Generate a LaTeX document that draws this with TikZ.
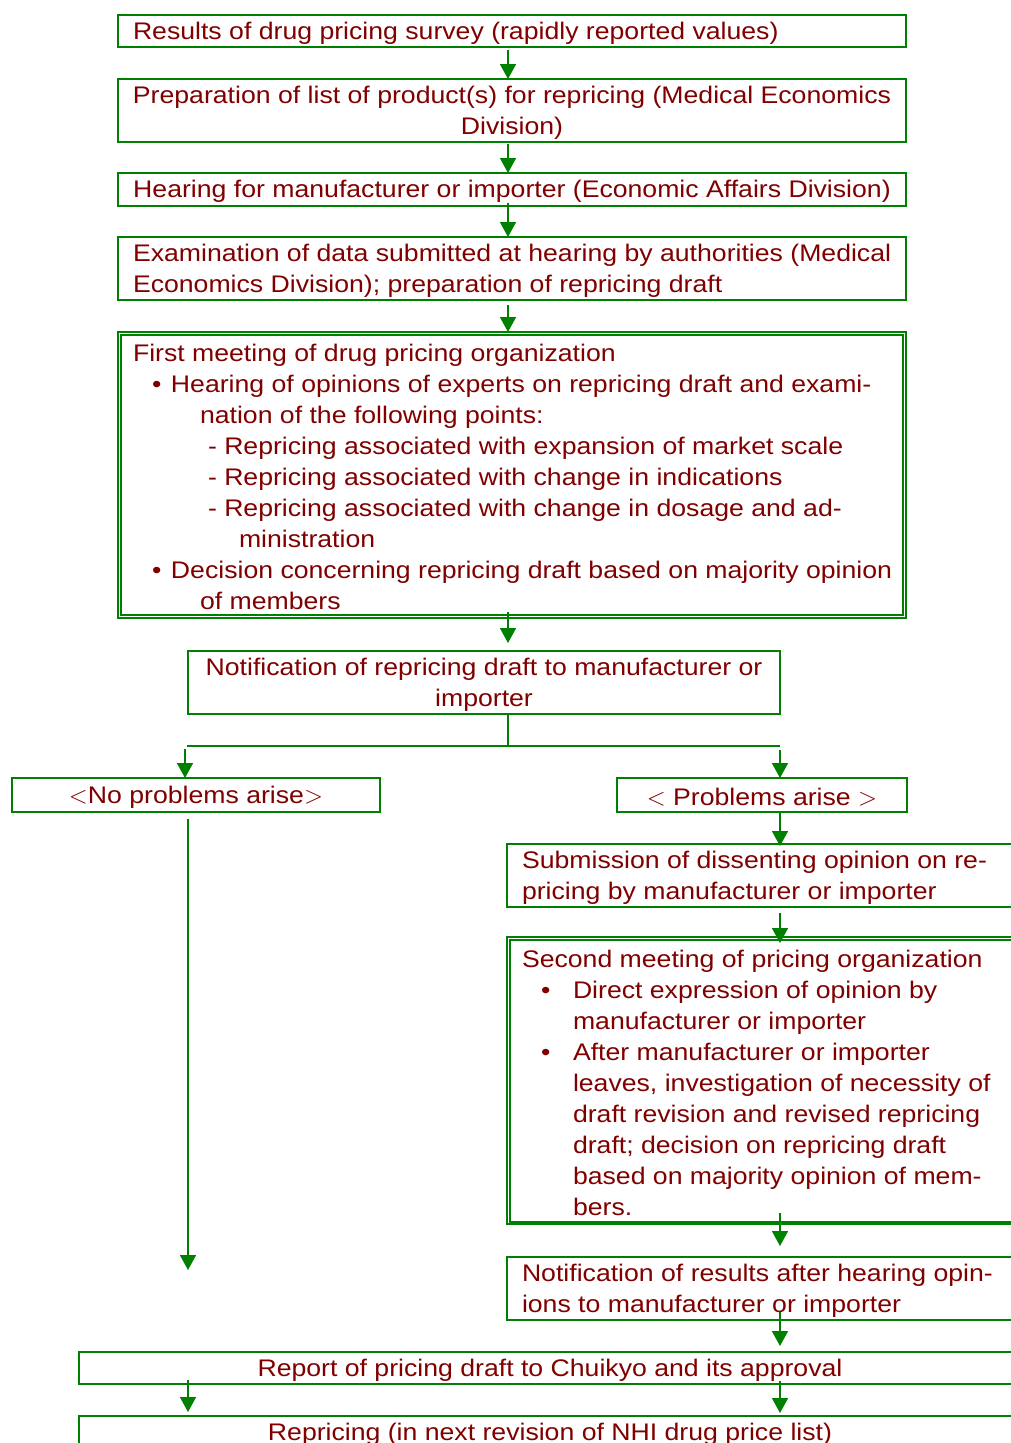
\documentclass[tikz,border=0pt]{standalone}
\usepackage{fontspec}
\setmainfont{Liberation Sans}[FakeStretch=1.11]
\usetikzlibrary{arrows.meta,calc}
\definecolor{flowgreen}{RGB}{0,128,0}
\definecolor{flowred}{RGB}{128,0,0}
\begin{document}
\begin{tikzpicture}[x=1pt,y=1pt,
  box/.style={draw=flowgreen, line width=2pt, anchor=north west, inner sep=0pt, outer sep=0pt},
  frame/.style={draw=flowgreen, line width=1.2pt},
  lbl/.style={text=flowred, inner sep=0pt, outer sep=0pt, yshift=-2pt, font=\fontsize{24}{31}\selectfont},
  lbll/.style={lbl, align=left, anchor=west},
  lblc/.style={lbl, align=center},
  arr/.style={draw=flowgreen, line width=1.6pt, -{Triangle[width=16pt,length=15pt]}},
  link/.style={draw=flowgreen, line width=1.6pt}]
\useasboundingbox (0,0) rectangle (1011,-1443);
\clip (0,0) rectangle (1011,-1443);

% guide lines for the connectors
\coordinate (mx) at (508,0);
\coordinate (rx) at (780,0);
\coordinate (lx) at (185,0);
\coordinate (lx2) at (188,0);

% main column
\node[box, minimum width=788pt, minimum height=32pt] (b1) at (118,-15) {};
\node[lbll] (t1) at ([xshift=15pt]b1.west) {Results of drug pricing survey (rapidly reported values)};

\node[box, minimum width=788pt, minimum height=63pt] (b2) at (118,-79) {};
\node[lblc] (t2) at (b2.center) {Preparation of list of product(s) for repricing (Medical Economics\\Division)};

\node[box, minimum width=788pt, minimum height=33pt] (b3) at (118,-173) {};
\node[lblc] (t3) at (b3.center) {Hearing for manufacturer or importer (Economic Affairs Division)};

\node[box, minimum width=788pt, minimum height=63pt] (b4) at (118,-237) {};
\node[lbll] (t4) at ([xshift=15pt]b4.west) {Examination of data submitted at hearing by authorities (Medical\\Economics Division); preparation of repricing draft};

\node[box, minimum width=782pt, minimum height=280pt] (b5) at (121,-335) {};
\draw[frame] ([xshift=-3pt,yshift=3pt]b5.north west) rectangle ([xshift=3pt,yshift=-3pt]b5.south east);
\node[lbll] (t5) at ([xshift=12pt]b5.west) {First meeting of drug pricing organization\\
\hspace*{19pt}\makebox[19pt][l]{•}Hearing of opinions of experts on repricing draft and exami-\\
\hspace*{67pt}nation of the following points:\\
\hspace*{75pt}- Repricing associated with expansion of market scale\\
\hspace*{75pt}- Repricing associated with change in indications\\
\hspace*{75pt}- Repricing associated with change in dosage and ad-\\
\hspace*{106pt}ministration\\
\hspace*{19pt}\makebox[19pt][l]{•}Decision concerning repricing draft based on majority opinion\\
\hspace*{67pt}of members};

\node[box, minimum width=592pt, minimum height=63pt] (b6) at (188,-651) {};
\node[lblc] (t6) at (b6.center) {Notification of repricing draft to manufacturer or\\importer};

% branches
\node[box, minimum width=368pt, minimum height=34pt] (b7) at (12,-778) {};
\node[lblc] (t7) at (b7.center) {$<$No problems arise$>$};

\node[box, minimum width=290pt, minimum height=34pt] (b8) at (617,-778) {};
\node[lblc] (t8) at (b8.center) {$<$ Problems arise $>$};

\node[box, minimum width=520pt, minimum height=63pt] (b9) at (507,-844) {};
\node[lbll] (t9) at ([xshift=15pt]b9.west) {Submission of dissenting opinion on re-\\pricing by manufacturer or importer};

\node[box, minimum width=520pt, minimum height=282pt] (b10) at (510,-940) {};
\draw[frame] ([xshift=-3pt,yshift=3pt]b10.north west) rectangle ([xshift=3pt,yshift=-2pt]b10.south east);
\node[lbll] (t10) at ([xshift=12pt]b10.west) {Second meeting of pricing organization\\
\hspace*{19pt}\makebox[32pt][l]{•}Direct expression of opinion by\\
\hspace*{51pt}manufacturer or importer\\
\hspace*{19pt}\makebox[32pt][l]{•}After manufacturer or importer\\
\hspace*{51pt}leaves, investigation of necessity of\\
\hspace*{51pt}draft revision and revised repricing\\
\hspace*{51pt}draft; decision on repricing draft\\
\hspace*{51pt}based on majority opinion of mem-\\
\hspace*{51pt}bers.};

\node[box, minimum width=520pt, minimum height=63pt] (b11) at (507,-1257) {};
\node[lbll] (t11) at ([xshift=15pt]b11.west) {Notification of results after hearing opin-\\ions to manufacturer or importer};

\node[box, minimum width=942pt, minimum height=32pt] (b12) at (79,-1352) {};
\node[lblc] (t12) at (b12.center) {Report of pricing draft to Chuikyo and its approval};

\node[box, minimum width=942pt, minimum height=32pt] (b13) at (79,-1416) {};
\node[lblc] (t13) at (b13.center) {Repricing (in next revision of NHI drug price list)};

% connectors of the main column
\draw[arr] ($(b1.south -| mx)+(0,-3)$) -- (b2.north -| mx);
\draw[arr] ($(b2.south -| mx)+(0,-2)$) -- (b3.north -| mx);
\draw[arr] ($(b3.south -| mx)+(0,3)$) -- (b4.north -| mx);
\draw[arr] ($(b4.south -| mx)+(0,-5)$) -- ($(b5.north -| mx)+(0,3)$);
\draw[arr] ($(b5.south -| mx)+(0,3)$) -- ($(b6.north -| mx)+(0,8)$);

% split into the two branches
\coordinate (sm) at (508,-746);
\coordinate (sl) at (187,-746);
\coordinate (sr) at (780,-746);
\draw[link] (b6.south -| mx) -- (sm);
\draw[link] (sl) -- (sr);
\draw[arr] ($(sl -| lx)+(0,-3)$) -- (b7.north -| lx);
\draw[arr] ($(sr)+(0,-4)$) -- (b8.north -| rx);

% left branch
\coordinate (nend) at (188,-1270);
\draw[arr] ($(b7.south -| lx2)+(0,-7)$) -- (nend);

% right branch
\draw[arr] (b8.south -| rx) -- ($(b9.north -| rx)+(0,-2)$);
\draw[arr] ($(b9.south -| rx)+(0,-6)$) -- ($(b10.north -| rx)+(0,-3)$);
\draw[arr] ($(b10.south -| rx)+(0,9)$) -- ($(b11.north -| rx)+(0,11)$);
\draw[arr] ($(b11.south -| rx)+(0,8)$) -- ($(b12.north -| rx)+(0,6)$);

% final step
\draw[arr] ($(b12.south -| rx)+(0,3)$) -- ($(b13.north -| rx)+(0,3)$);
\draw[arr] ($(b12.south -| lx2)+(0,4)$) -- ($(b13.north -| lx2)+(0,4)$);
\end{tikzpicture}
\end{document}
